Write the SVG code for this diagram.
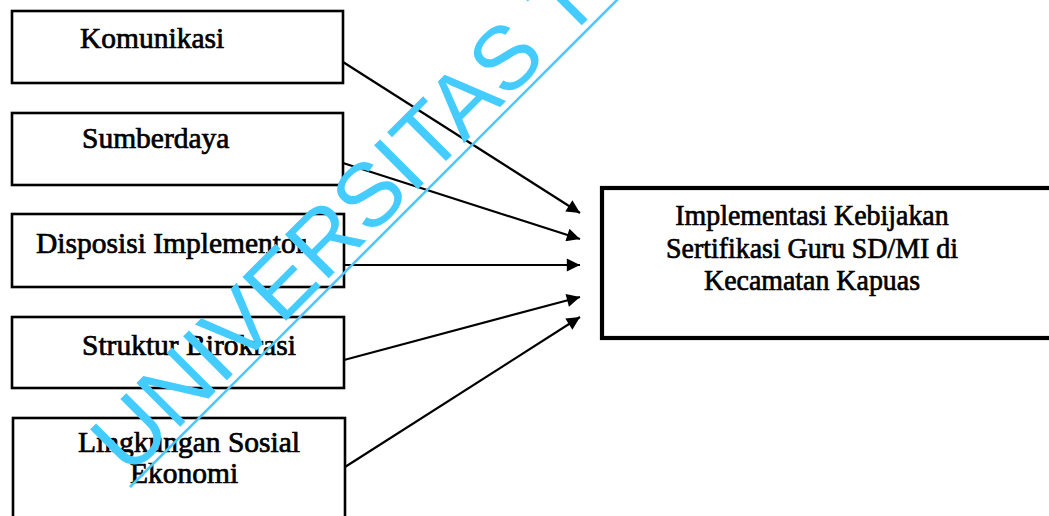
<svg xmlns="http://www.w3.org/2000/svg" width="1049" height="516" viewBox="0 0 1049 516">
<defs>
<style>
.box{fill:#fff;stroke:#000;stroke-width:2.6}
.big{fill:#fff;stroke:#000;stroke-width:4.2}
.t{font-family:"Liberation Serif","Times New Roman",serif;font-size:29.5px;fill:#000;stroke:#000;stroke-width:0.7}
.tr{font-family:"Liberation Serif","Times New Roman",serif;font-size:30px;fill:#000;stroke:#000;stroke-width:0.7;text-anchor:middle}
.c{fill:none;stroke:#000;stroke-width:2.2}
.wm{font-family:"Liberation Sans",Arial,sans-serif;font-size:90px;fill:#44CCFF}
</style>
<marker id="ah" viewBox="0 0 10 10" refX="10" refY="5" markerWidth="7" markerHeight="6" markerUnits="strokeWidth" orient="auto">
<path d="M0,0 L10,5 L0,10 z" fill="#000"/>
</marker>
</defs>
<rect width="1049" height="516" fill="#fff"/>
<g id="n1"><rect class="box" x="12" y="11" width="331" height="72"/><text class="t" x="80" y="48">Komunikasi</text></g>
<g id="n2"><rect class="box" x="12" y="113" width="331" height="72"/><text class="t" x="82" y="148">Sumberdaya</text></g>
<g id="n3"><rect class="box" x="12" y="214" width="332" height="73"/><text class="t" x="36" y="253">Disposisi Implementor</text></g>
<g id="n4"><rect class="box" x="12" y="317" width="332" height="71"/><text class="t" x="82" y="355">Struktur Birokrasi</text></g>
<g id="n5"><rect class="box" x="13" y="418" width="332" height="120"/><text class="t" x="78" y="452">Lingkungan Sosial</text><text class="t" x="130" y="483">Ekonomi</text></g>
<g id="n6"><rect class="big" x="602" y="188" width="460" height="150"/>
<g transform="translate(812,0) scale(0.93,1)"><text class="tr" x="0" y="225">Implementasi Kebijakan</text><text class="tr" x="0" y="258">Sertifikasi Guru SD/MI di</text><text class="tr" x="0" y="290">Kecamatan Kapuas</text></g></g>
<g id="connectors">
<line class="c" x1="343" y1="62" x2="580" y2="213" marker-end="url(#ah)"/>
<line class="c" x1="343" y1="163" x2="580" y2="239" marker-end="url(#ah)"/>
<line class="c" x1="344" y1="265" x2="580" y2="265" marker-end="url(#ah)"/>
<line class="c" x1="344" y1="360" x2="580" y2="297" marker-end="url(#ah)"/>
<line class="c" x1="345" y1="467" x2="580" y2="317" marker-end="url(#ah)"/>
</g>
<g id="watermark">
<text class="wm" transform="translate(129,478) rotate(-45)">UNIVERSITAS T</text>
<line x1="130" y1="487" x2="630" y2="-13" stroke="#44CCFF" stroke-width="2.6"/>
</g>
</svg>
